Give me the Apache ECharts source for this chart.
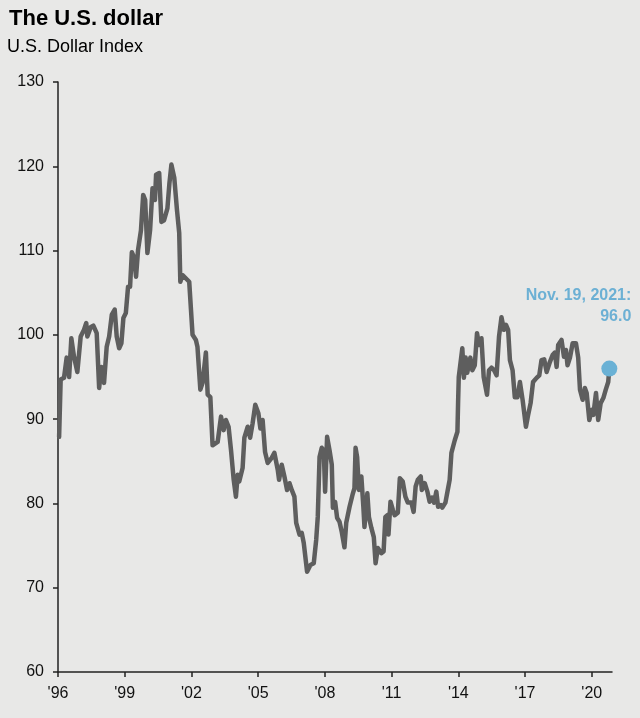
<!DOCTYPE html>
<html><head><meta charset="utf-8">
<script src="https://cdn.jsdelivr.net/npm/echarts@6/dist/echarts.min.js"></script>
<style>html,body{margin:0;padding:0;background:#e8e8e7}#c{width:640px;height:718px}</style>
</head><body><div id="c"></div>
<script>
const titleText = 'The U.S. dollar';
const subtitleText = 'U.S. Dollar Index';
const years = [
1996.05,1996.12,1996.27,1996.39,1996.50,1996.60,1996.72,1996.87,1997.02,1997.17,1997.27,1997.32,1997.47,1997.59,1997.74,1997.85,1997.95,
1998.07,1998.19,1998.30,1998.42,1998.55,1998.64,1998.75,1998.85,1998.94,1999.05,1999.15,1999.24,1999.32,1999.42,1999.51,1999.60,1999.73,1999.83,1999.92,
2000.02,2000.14,2000.25,2000.36,2000.41,2000.55,2000.65,2000.77,2000.92,2001.01,2001.10,2001.23,2001.35,2001.45,2001.50,2001.60,2001.90,2001.98,
2002.05,2002.20,2002.27,2002.40,2002.50,2002.65,2002.73,2002.85,2002.95,2003.18,2003.33,2003.45,2003.55,2003.67,2003.78,2003.90,
2004.00,2004.08,2004.15,2004.30,2004.38,2004.53,2004.64,2004.75,2004.87,2005.01,2005.10,2005.20,2005.31,2005.43,2005.61,2005.73,2005.88,2005.94,
2006.06,2006.18,2006.30,2006.41,2006.51,2006.63,2006.71,2006.86,2006.96,2007.05,2007.20,2007.35,2007.50,2007.61,2007.68,2007.76,2007.86,2007.95,
2008.01,2008.10,2008.21,2008.31,2008.36,2008.46,2008.55,2008.66,2008.76,2008.88,2008.96,2009.11,2009.26,2009.33,2009.38,2009.45,2009.53,2009.64,2009.73,2009.78,2009.91,2009.98,
2010.09,2010.20,2010.28,2010.38,2010.54,2010.64,2010.72,2010.81,2010.86,2010.95,2011.06,2011.14,2011.28,2011.37,2011.50,2011.62,2011.73,2011.89,2011.99,
2012.08,2012.18,2012.31,2012.36,2012.49,2012.61,2012.71,2012.82,2012.91,2013.01,2013.09,2013.21,2013.28,2013.42,2013.54,2013.61,2013.69,2013.84,2013.96,2013.99,
2014.02,2014.18,2014.25,2014.33,2014.40,2014.54,2014.63,2014.74,2014.84,2014.93,2015.04,2015.14,2015.29,2015.38,2015.49,2015.61,2015.72,2015.83,2015.94,
2016.05,2016.14,2016.24,2016.32,2016.44,2016.54,2016.66,2016.77,2016.89,2017.04,2017.14,2017.25,2017.36,2017.52,2017.64,2017.74,2017.86,2017.97,
2018.12,2018.24,2018.34,2018.42,2018.49,2018.64,2018.75,2018.84,2018.91,2019.02,2019.14,2019.29,2019.39,2019.47,2019.59,2019.69,2019.77,2019.89,
2020.00,2020.07,2020.19,2020.29,2020.40,2020.52,2020.63,2020.74,2020.79
];
const values = [
87.9,94.7,94.9,97.3,95.0,99.6,97.4,95.6,99.8,100.6,101.4,99.8,100.9,101.1,100.2,93.7,96.2,
94.3,98.6,99.8,102.4,103.0,99.8,98.4,99.0,102.0,102.6,105.7,105.7,109.8,109.2,106.9,110.1,112.4,116.6,116.0,
109.7,112.4,117.4,116.0,119.0,119.2,113.4,113.6,115.0,118.0,120.2,118.6,114.8,112.1,106.3,107.1,106.3,106.2,
100.0,99.4,98.6,93.5,94.3,97.9,92.9,92.6,86.9,87.3,90.3,88.7,89.9,89.1,86.3,82.8,
80.8,83.4,82.6,84.2,87.8,89.1,87.8,89.5,91.7,90.7,88.9,89.9,86.1,84.8,85.4,86.0,84.0,82.8,
84.6,83.2,81.6,82.4,81.6,80.8,77.7,76.3,76.5,75.3,71.9,72.7,72.9,75.7,78.4,85.5,86.6,86.3,
81.4,87.9,86.3,84.6,79.5,80.2,78.3,77.8,76.6,74.8,77.7,79.6,81.2,81.8,86.6,85.5,81.6,83.2,79.6,77.2,81.2,78.4,
77.1,76.0,72.9,74.7,74.1,74.3,78.4,78.6,76.3,80.2,79.2,78.6,78.9,83.0,82.6,80.8,80.1,80.1,79.0,
82.0,82.8,83.2,81.6,82.4,81.4,80.2,80.7,80.1,81.4,79.6,79.8,79.5,80.1,81.8,82.8,86.0,87.5,88.5,92.0,
95.0,98.4,94.9,97.3,95.5,97.3,95.8,96.4,100.2,98.8,99.6,95.0,92.9,95.8,96.1,95.8,95.2,99.8,102.1,
100.6,101.2,100.6,97.0,95.8,92.6,92.6,94.4,92.3,89.1,90.5,91.9,94.4,94.9,95.2,97.0,97.1,95.6,
96.8,97.6,97.9,96.2,98.8,99.4,97.4,98.2,96.4,97.3,99.0,99.0,97.3,93.5,92.3,93.7,93.1,89.9,
91.1,90.5,93.1,89.9,91.9,92.5,93.5,94.4,96.0
];
const xTickYears = [1996,1999,2002,2005,2008,2011,2014,2017,2020];
const yTicks = [60,70,80,90,100,110,120,130];
const lastDateLabel = 'Nov. 19, 2021:';

const font = 'Liberation Sans, Arial, sans-serif';
const data = years.map((y, i) => [y, values[i]]);
const last = data[data.length - 1];

const chart = echarts.init(document.getElementById('c'));
chart.setOption({
  backgroundColor: '#e8e8e7',
  animation: false,
  title: [
    {text: titleText, left: 4, top: 3, textStyle: {fontFamily: font, fontSize: 22, fontWeight: 'bold', color: '#000'}},
    {text: subtitleText, left: 2, top: 33, textStyle: {fontFamily: font, fontSize: 18, fontWeight: 'normal', color: '#000'}}
  ],
  grid: {left: 58, right: 28, top: 82, bottom: 46, containLabel: false},
  xAxis: {
    type: 'value', min: 1996, max: 2020.91,
    axisLine: {show: true, onZero: false, lineStyle: {color: '#222', width: 1.5}},
    axisTick: {show: true, length: 5, customValues: xTickYears, lineStyle: {color: '#222', width: 1.5}},
    axisLabel: {customValues: xTickYears, margin: 14, fontFamily: font, fontSize: 16, color: '#111',
      formatter: v => "'" + String(Math.round(v)).slice(2)},
    splitLine: {show: false}
  },
  yAxis: {
    type: 'value', min: yTicks[0], max: yTicks[yTicks.length - 1], interval: 10,
    axisLine: {show: true, lineStyle: {color: '#222', width: 1.5}},
    axisTick: {show: true, length: 5, lineStyle: {color: '#222', width: 1.5}},
    axisLabel: {margin: 14, fontFamily: font, fontSize: 16, color: '#111'},
    splitLine: {show: false}
  },
  series: [
    {type: 'line', data: data, showSymbol: false, symbol: 'none',
     lineStyle: {color: '#5e5e5e', width: 4.5, join: 'round', cap: 'round'}, z: 2},
    {type: 'scatter', data: [last], symbolSize: 16, itemStyle: {color: '#6ab1d5', opacity: 1}, z: 3,
     label: {show: true, position: 'top', align: 'right', offset: [22, -28],
       formatter: () => lastDateLabel + '\n' + last[1].toFixed(1),
       fontFamily: font, fontSize: 16, fontWeight: 'bold', color: '#6cb0d4', lineHeight: 21}}
  ]
});
</script></body></html>
